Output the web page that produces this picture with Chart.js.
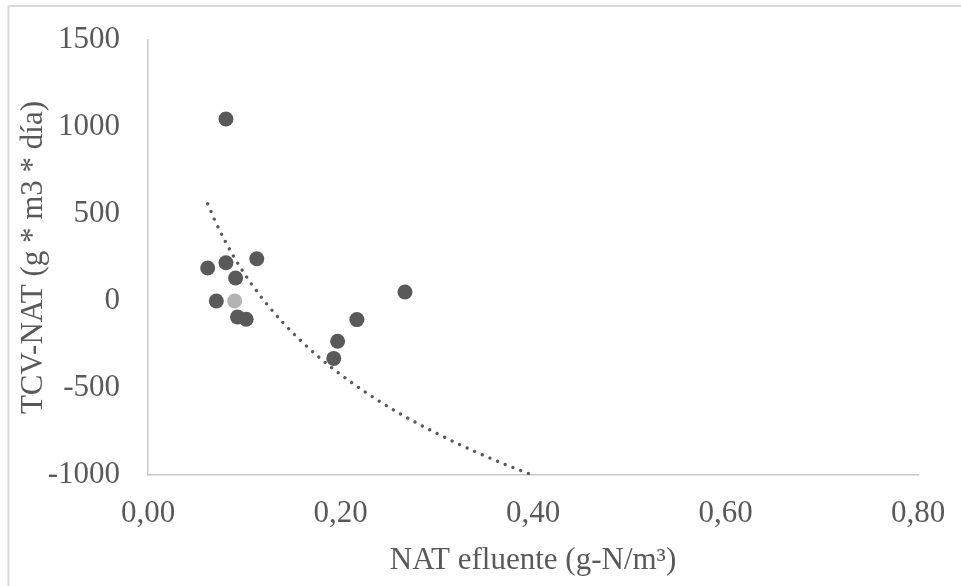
<!DOCTYPE html>
<html>
<head>
<meta charset="utf-8">
<script src="https://cdn.jsdelivr.net/npm/chart.js@4"></script>
<style>
  html, body { margin: 0; padding: 0; background: #fff; }
  #wrap { position: relative; width: 961px; height: 586px; }
</style>
</head>
<body>
<div id="wrap"><canvas id="chart" width="961" height="586"></canvas></div>
<script>
// measured points (NAT efluente vs TCV-NAT)
const natX = [0.081, 0.062, 0.081, 0.113, 0.091, 0.071, 0.093, 0.102, 0.217, 0.197, 0.193, 0.267];
const tcvY = [1046, 190, 220, 243, 132, 0, -92, -105, -107, -231, -330, 52];

// the one lighter point
const lightX = [0.090];
const lightY = [0];

// dotted trend curve
const trendX = [0.062, 0.07, 0.08, 0.09, 0.10, 0.11, 0.12, 0.14, 0.16, 0.18, 0.20, 0.23, 0.26, 0.30, 0.34, 0.37, 0.399];
const trendY = [559, 457, 346, 247, 158, 79, 6, -123, -235, -334, -422, -539, -642, -761, -866, -937, -1000];

const xTicks = [0, 0.2, 0.4, 0.6, 0.8];
const yTicks = [-1000, -500, 0, 500, 1000, 1500];

const toPts = (xs, ys) => xs.map((x, i) => ({ x: x, y: ys[i] }));

const textColor = "#595959";
const font = { family: "'Liberation Serif', 'Times New Roman', serif", size: 31 };

const outerBorder = {
  id: "outerBorder",
  beforeDraw(chart) {
    const c = chart.ctx;
    c.save();
    c.strokeStyle = "#d9d9d9";
    c.lineWidth = 2;
    c.strokeRect(8.5, 6, 1200, 1200);
    c.restore();
  }
};

new Chart(document.getElementById("chart"), {
  type: "scatter",
  data: {
    datasets: [
      {
        type: "line",
        data: toPts(trendX, trendY),
        borderColor: "#595959",
        borderWidth: 3.3,
        borderDash: [0.01, 8.3],
        borderCapStyle: "round",
        cubicInterpolationMode: "monotone",
        pointRadius: 0,
        fill: false
      },
      {
        data: toPts(natX, tcvY),
        backgroundColor: "#595959",
        borderWidth: 0,
        pointRadius: 7.5
      },
      {
        data: toPts(lightX, lightY),
        backgroundColor: "#b3b3b3",
        borderWidth: 0,
        pointRadius: 7.5
      }
    ]
  },
  options: {
    responsive: false,
    animation: false,
    layout: { padding: { top: 40, right: 43, left: 0, bottom: 0 } },
    plugins: { legend: { display: false }, tooltip: { enabled: false } },
    scales: {
      x: {
        type: "linear",
        min: 0,
        max: 0.8,
        afterBuildTicks: (s) => { s.ticks = xTicks.map(v => ({ value: v })); },
        afterFit: (s) => { s.height = 111; s.paddingLeft = 0; s.paddingRight = 0; },
        grid: { display: false, drawTicks: false },
        border: { display: true, color: "#c8c8c8", width: 1.5 },
        ticks: {
          color: textColor,
          font: font,
          padding: 20,
          callback: (v) => v.toFixed(2).replace(".", ",")
        },
        title: {
          display: true,
          text: "NAT efluente (g-N/m³)",
          color: textColor,
          font: font,
          padding: { top: 0, bottom: 7 }
        }
      },
      y: {
        min: -1000,
        max: 1500,
        afterBuildTicks: (s) => { s.ticks = yTicks.map(v => ({ value: v })); },
        afterFit: (s) => { s.width = 148; s.paddingTop = 0; s.paddingBottom = 0; },
        grid: { display: false, drawTicks: false },
        border: { display: true, color: "#c8c8c8", width: 1.5 },
        ticks: {
          color: textColor,
          font: font,
          padding: 28,
          callback: (v) => String(v)
        },
        title: {
          display: true,
          text: "TCV-NAT (g * m3 * día)",
          color: textColor,
          font: font,
          padding: { top: 15, bottom: 0 }
        }
      }
    }
  },
  plugins: [outerBorder]
});
</script>
</body>
</html>
